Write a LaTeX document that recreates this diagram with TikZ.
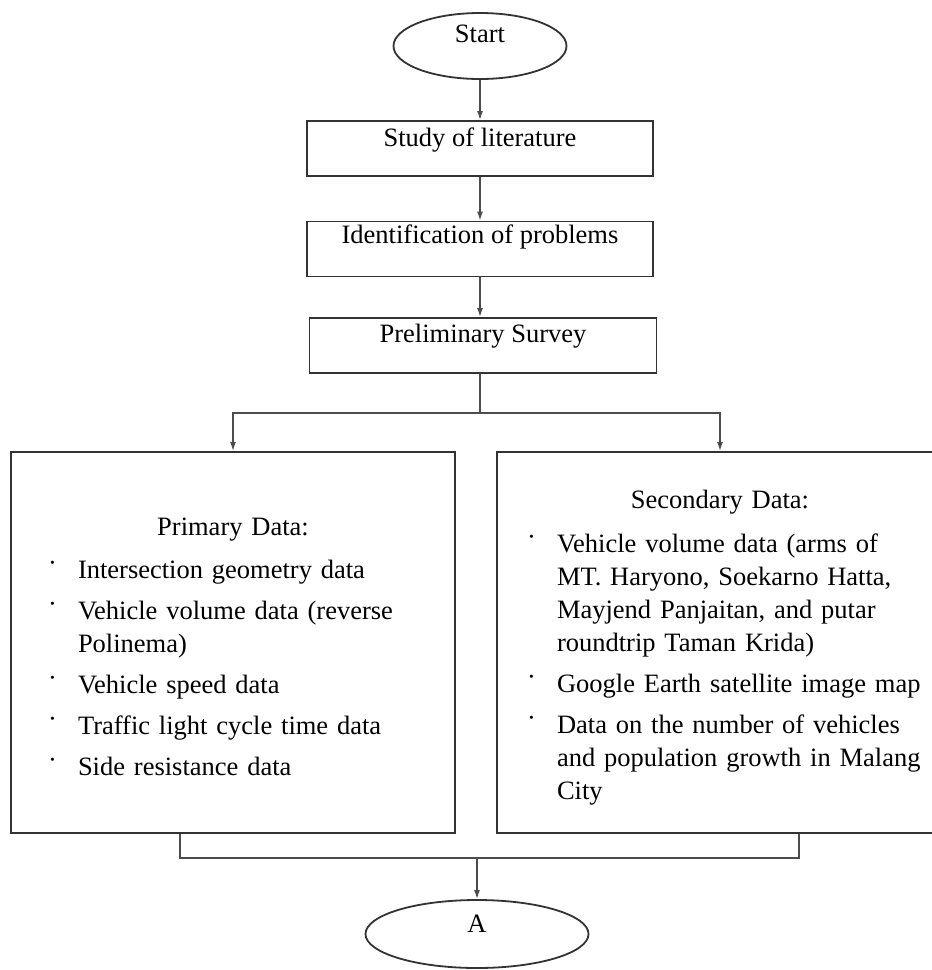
\documentclass[tikz,border=0pt]{standalone}
\usepackage{fontspec}
\setmainfont{Liberation Serif}
\usepackage{tikz}
\usetikzlibrary{shapes.geometric,arrows.meta}
\setlength{\parindent}{0pt}
\tikzstyle{node:terminal}=[ellipse,draw=black!80,line width=1.8pt,inner sep=0pt,text height=18pt]
\tikzstyle{node:process}=[rectangle,draw=black!80,line width=1.8pt,inner sep=0pt,minimum width=346pt,minimum height=55pt,text height=18pt]
\tikzstyle{node:data}=[rectangle,draw=black!80,line width=2pt,inner ysep=0pt,minimum height=381pt,text height=23pt,align=left]
\tikzstyle{draw:connection}=[-{Latex[length=9pt,width=6pt]},line width=1.4pt,draw=black!70]
\tikzstyle{draw:line}=[line width=1.4pt,draw=black!70]
\newcommand{\dataitem}[1]{\par\vspace{8pt}\hangindent=60pt\hangafter=1\noindent\hspace*{30pt}\makebox[30pt][l]{\raisebox{7pt}{·}}#1}

\begin{document}
\begin{tikzpicture}[x=1pt,y=-1pt,font=\fontsize{26.5}{33}\selectfont]
        \useasboundingbox (0,0) rectangle (932,970);

        % Terminals
        \node[node:terminal,minimum width=173pt,minimum height=66pt,text depth=26pt] (start) at (480,46) {Start};
        \node[node:terminal,minimum width=223pt,minimum height=68pt,text depth=22pt] (connA) at (477,934) {A};

        % Process steps
        \node[node:process,text depth=23pt] (study) at (480,148.5) {Study of literature};
        \node[node:process,text depth=30pt] (ident) at (480,249) {Identification of problems};
        \node[node:process,minimum width=347pt,text depth=25pt] (prelim) at (483,345.5) {Preliminary Survey};

        % Data collection
        \node[node:data,minimum width=444pt,text width=430pt,inner xsep=7pt,text depth=238pt] (primary) at (233,642.5) {%
            {\centering Primary Data:\par}\vspace{2pt}
            \dataitem{Intersection geometry data}
            \dataitem{Vehicle volume data (reverse\newline Polinema)}
            \dataitem{Vehicle speed data}
            \dataitem{Traffic light cycle time data}
            \dataitem{Side resistance data}\par};
        \node[node:data,minimum width=446pt,text width=446pt,inner xsep=0pt,text depth=292pt] (secondary) at (720,642.5) {%
            {\centering Secondary Data:\par}\vspace{3pt}
            \dataitem{Vehicle volume data (arms of\newline MT. Haryono, Soekarno Hatta,\newline Mayjend Panjaitan, and putar\newline roundtrip Taman Krida)}
            \dataitem{Google Earth satellite image map}
            \dataitem{Data on the number of vehicles\newline and population growth in Malang\newline City}\par};

        % Junctions
        \coordinate (split) at (480,413);
        \coordinate (joinL) at (180,858);
        \coordinate (joinR) at (799,858);
        \coordinate (merge) at (477,858);

        % Connections
        \draw[draw:connection] (start) -- (study);
        \draw[draw:connection] (study) -- (ident);
        \draw[draw:connection] (ident.south) -- (ident.south |- prelim.north);
        \draw[draw:line] (split |- prelim.south) -- (split);
        \draw[draw:connection] (split) -| (primary);
        \draw[draw:connection] (split) -| (secondary);
        \draw[draw:line] (primary.south -| joinL) -- (joinL) -- (joinR) -- (secondary.south -| joinR);
        \draw[draw:connection] (merge) -- (connA);

\end{tikzpicture}
\end{document}
